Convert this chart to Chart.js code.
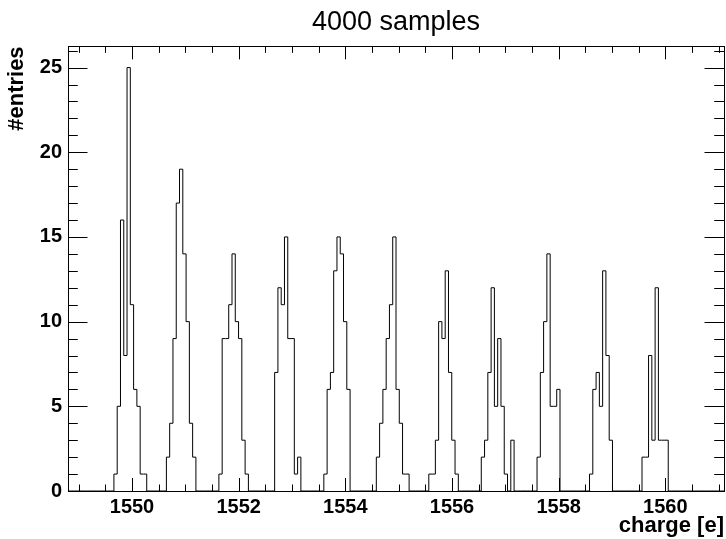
<!DOCTYPE html>
<html>
<head>
<meta charset="utf-8">
<script src="https://cdn.jsdelivr.net/npm/chart.js@4/dist/chart.umd.min.js"></script>
<style>
  html, body { margin: 0; padding: 0; background: #fff; }
  canvas { display: block; }
</style>
</head>
<body>
<canvas id="hist" width="726" height="539"></canvas>
<script>
// histogram binning (200 bins)
const binLow = 1548.8;
const binHigh = 1561.1;
const nBins = 200;

// first non-empty bin of each peak, and the counts that follow it
const peakFirstBin = [15, 31, 47, 64, 79, 95, 111, 127, 144, 160, 176];
const peakCounts = [
  [1, 5, 16, 8, 25, 11, 6, 5, 1, 1],
  [2, 4, 9, 17, 19, 14, 10, 4, 2],
  [1, 9, 9, 11, 14, 10, 9, 3, 1],
  [7, 12, 11, 15, 9, 9, 1, 2],
  [1, 6, 7, 13, 15, 14, 10, 6],
  [2, 4, 6, 9, 11, 15, 6, 4, 1, 1],
  [1, 1, 3, 10, 9, 13, 7, 3, 1],
  [2, 3, 7, 12, 5, 9, 5, 1, 0, 3],
  [2, 7, 10, 14, 5, 5, 6],
  [1, 6, 7, 5, 13, 8, 3],
  [2, 2, 8, 3, 12, 3, 3, 3]
];

const xTickLabels = [1550, 1552, 1554, 1556, 1558, 1560];
const yTickLabels = [0, 5, 10, 15, 20, 25];
const yMax = 26.25;

const FONT = '"Liberation Sans", Arial, Helvetica, sans-serif';

const binWidth = (binHigh - binLow) / nBins;
const counts = new Array(nBins).fill(0);
peakFirstBin.forEach((b, p) => peakCounts[p].forEach((c, k) => { counts[b + k] = c; }));

const points = counts.map((c, i) => ({ x: binLow + i * binWidth, y: c }));
points.push({ x: binHigh, y: 0 });

// frame + inward ticks on all four sides, ROOT style
const frameTicks = {
  id: 'frameTicks',
  afterDraw(chart) {
    const { ctx, chartArea: a, scales: { x, y } } = chart;
    ctx.save();
    ctx.strokeStyle = '#000';
    ctx.lineWidth = 1;
    ctx.beginPath();
    for (let v = Math.ceil(binLow * 2) / 2; v <= binHigh + 1e-9; v += 0.5) {
      const px = Math.round(x.getPixelForValue(v)) + 0.5;
      const len = (v % 2 === 0) ? 13 : 6.5;
      ctx.moveTo(px, a.bottom); ctx.lineTo(px, a.bottom - len);
      ctx.moveTo(px, a.top); ctx.lineTo(px, a.top + len);
    }
    for (let v = 0; v <= yMax; v += 1) {
      const py = Math.round(y.getPixelForValue(v)) + 0.5;
      const len = (v % 5 === 0) ? 19.5 : 9.8;
      ctx.moveTo(a.left, py); ctx.lineTo(a.left + len, py);
      ctx.moveTo(a.right, py); ctx.lineTo(a.right - len, py);
    }
    ctx.stroke();
    ctx.strokeRect(Math.round(a.left) + 0.5, Math.round(a.top) + 0.5,
      Math.round(a.right - a.left), Math.round(a.bottom - a.top));
    ctx.restore();
  }
};

new Chart(document.getElementById('hist').getContext('2d'), {
  type: 'line',
  data: {
    datasets: [{
      data: points,
      stepped: 'after',
      borderColor: '#000',
      borderWidth: 1,
      pointRadius: 0,
      fill: false
    }]
  },
  options: {
    responsive: false,
    animation: false,
    layout: { padding: { left: 0, right: 2, top: 0, bottom: 0 } },
    plugins: {
      legend: { display: false },
      tooltip: { enabled: false },
      title: {
        display: true,
        fullSize: false,
        text: '4000 samples',
        color: '#000',
        font: { family: FONT, size: 27, weight: 'normal' },
        padding: { top: 6, bottom: 8 }
      }
    },
    scales: {
      x: {
        type: 'linear',
        min: binLow,
        max: binHigh,
        grid: { display: false, drawTicks: false },
        border: { display: false },
        afterBuildTicks: s => { s.ticks = xTickLabels.map(v => ({ value: v })); },
        afterFit: s => { s.height = 48; },
        ticks: {
          color: '#000',
          padding: 4,
          maxRotation: 0,
          autoSkip: false,
          font: { family: FONT, size: 20, weight: 'bold' },
          callback: v => String(v)
        },
        title: {
          display: true,
          text: 'charge [e]',
          align: 'end',
          color: '#000',
          font: { family: FONT, size: 22, weight: 'bold' },
          padding: 0
        }
      },
      y: {
        min: 0,
        max: yMax,
        grid: { display: false, drawTicks: false },
        border: { display: false },
        afterBuildTicks: s => { s.ticks = yTickLabels.map(v => ({ value: v })); },
        afterFit: s => { s.width = 68; },
        ticks: {
          color: '#000',
          padding: 6,
          font: { family: FONT, size: 20, weight: 'bold' },
          callback: v => String(v)
        },
        title: {
          display: true,
          text: '#entries',
          align: 'end',
          color: '#000',
          font: { family: FONT, size: 22, weight: 'bold' },
          padding: { top: 4 }
        }
      }
    }
  },
  plugins: [frameTicks]
});
</script>
</body>
</html>
